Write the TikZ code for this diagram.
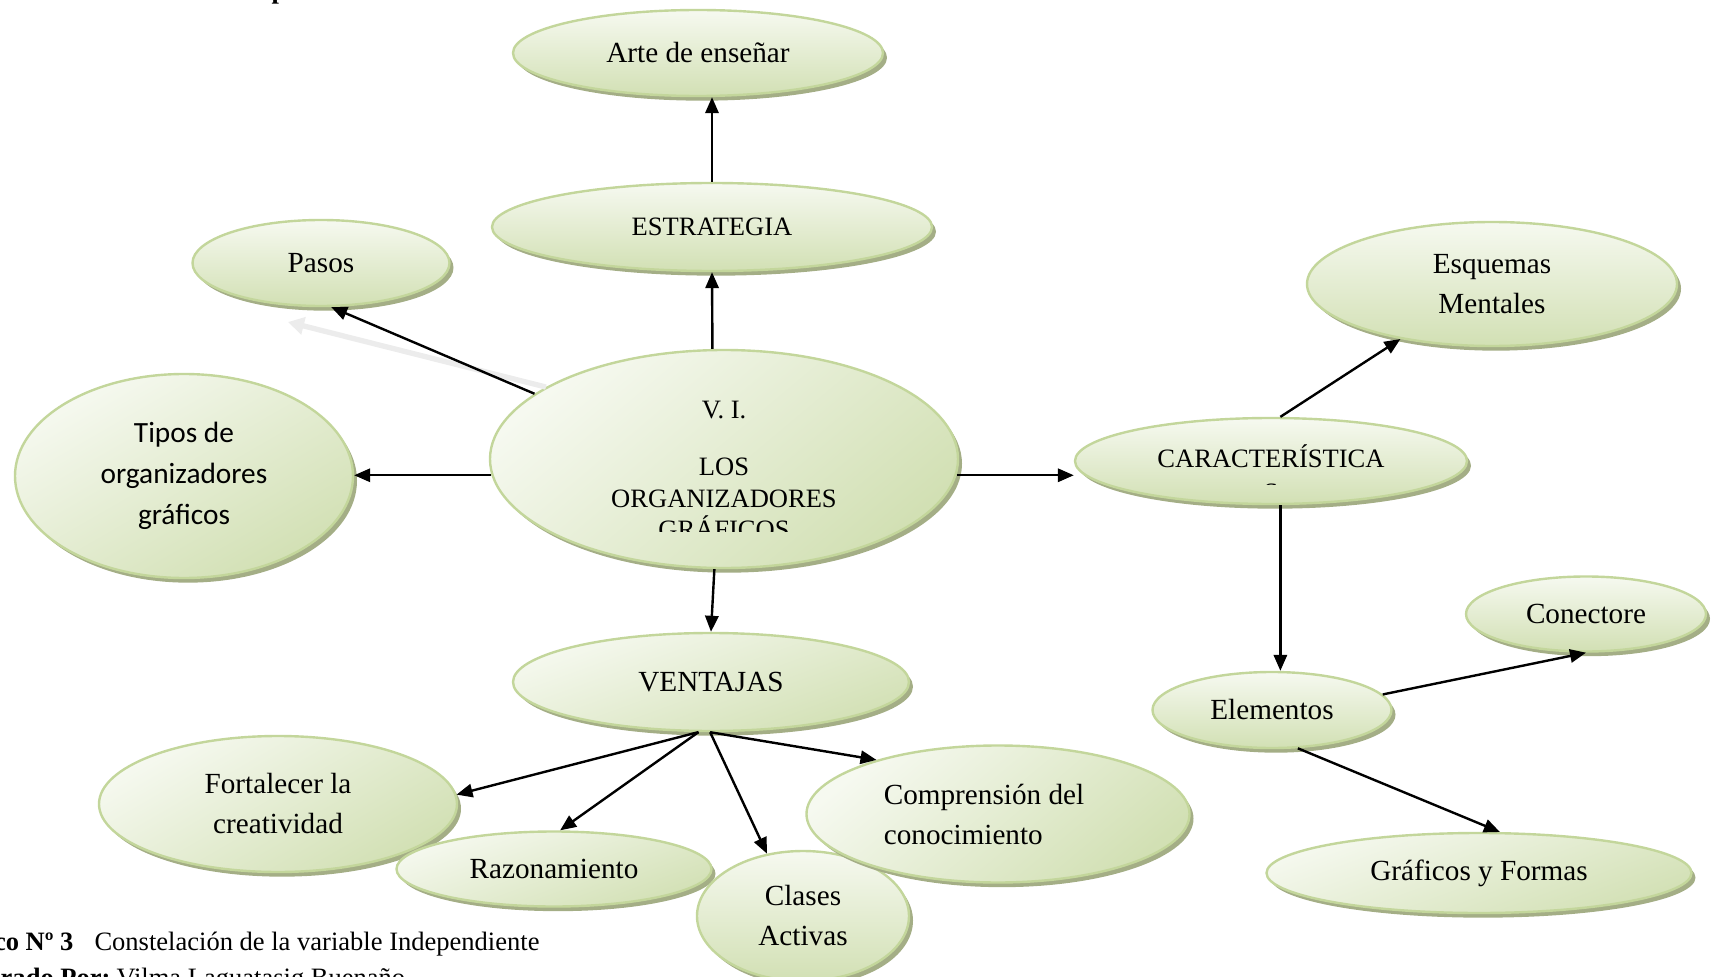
\documentclass[tikz,border=0pt]{standalone}
\usepackage{fontspec}
\setmainfont{Liberation Serif}
\newfontfamily\carlitofont{Carlito}
\usetikzlibrary{shapes.geometric,shadows,arrows.meta}

\definecolor{bubbleline}{RGB}{195,214,155}
\definecolor{bubbletop}{RGB}{246,249,240}
\definecolor{bubblebot}{RGB}{210,224,180}
\definecolor{bubbleshade}{RGB}{164,174,134}
\definecolor{ghostline}{RGB}{236,236,236}

\tikzset{every picture/.style={line width=0.75pt}}
\tikzset{
  bubble/.style={ellipse, draw=bubbleline, line width=1.8pt, top color=bubbletop, bottom color=bubblebot,
    inner sep=0pt, align=center, font=\fontsize{21.9}{30}\selectfont,
    drop shadow={shadow xshift=3pt, shadow yshift=-3.5pt, fill=bubbleshade, opacity=1}},
  capsfont/.style={font=\fontsize{19.9}{23.6}\selectfont},
  link/.style={line width=1.8pt, -{Triangle[length=12pt,width=10pt]}},
  ghost/.style={line width=4pt, draw=ghostline, -{Triangle[length=12pt,width=13pt]}},
  captext/.style={inner sep=0pt, font=\fontsize{19.9}{23.6}\selectfont},
}

\begin{document}
\begin{tikzpicture}[x=0.75pt,y=0.75pt,yscale=-1,xscale=1]
\useasboundingbox (0,0) rectangle (1718,977);

% Text Node (heading, cut off)
\node [captext, anchor=base west, font=\bfseries\fontsize{19.9}{23.6}\selectfont] (headfrag) at (271,-1) {p};

%Shape: Ellipse
\node [bubble, minimum width=277.5pt, minimum height=64.5pt] (arte) at (698,53) {Arte de enseñar};
%Shape: Ellipse
\node [bubble, capsfont, minimum width=330pt, minimum height=66pt] (estr) at (712,227) {ESTRATEGIA};
%Shape: Ellipse
\node [bubble, minimum width=192.75pt, minimum height=64.5pt] (pasos) at (321,263) {Pasos};
%Shape: Ellipse
\node [bubble, minimum width=253.5pt, minimum height=153pt, font=\carlitofont\fontsize{22}{30.75}\selectfont, shading angle=30] (tipos) at (184,476) {Tipos de\\organizadores\\gráficos};
%Shape: Ellipse
\node [bubble, minimum width=351pt, minimum height=163.5pt, shading angle=40] (vi) at (724,459) {};
\begin{scope}
  \clip (560,380) rectangle (890,531);
  \node [capsfont, align=center, inner sep=0pt] (vitxt) at (724,470) {V. I.\\[19.2pt]LOS\\ORGANIZADORES\\GRÁFICOS};
\end{scope}
%Shape: Ellipse
\node [bubble, minimum width=294pt, minimum height=64.5pt] (carac) at (1271,461) {};
\begin{scope}
  \clip (1100,420) rectangle (1440,484);
  \node [capsfont, align=center, inner sep=0pt] (caractxt) at (1271,473) {CARACTERÍSTICA\\[2pt]S};
\end{scope}
%Shape: Ellipse
\node [bubble, minimum width=277.5pt, minimum height=93pt] (esq) at (1492,284) {Esquemas\\Mentales};
%Shape: Ellipse
\node [bubble, minimum width=297pt, minimum height=73.5pt, shading angle=20] (vent) at (711,682) {VENTAJAS};
%Shape: Ellipse
\node [bubble, minimum width=268.5pt, minimum height=102pt, shading angle=30] (fort) at (278,804) {Fortalecer la\\creatividad};
%Shape: Ellipse
\node [bubble, minimum width=236.25pt, minimum height=56.25pt, shading angle=20] (razo) at (554,869) {Razonamiento};
%Shape: Ellipse
\node [bubble, minimum width=159pt, minimum height=97.5pt] (clases) at (803,916) {Clases\\Activas};
%Shape: Ellipse
\node [bubble, minimum width=287.25pt, minimum height=102.75pt, align=left, shading angle=40] (compr) at (998,814) {Comprensión del\hspace*{21pt}\\conocimiento};
%Shape: Ellipse
\node [bubble, minimum width=179.25pt, minimum height=57pt] (elem) at (1272,710) {Elementos};
%Shape: Ellipse
\node [bubble, minimum width=180pt, minimum height=56.25pt] (conect) at (1586,614) {Conectore};
%Shape: Ellipse
\node [bubble, minimum width=318.75pt, minimum height=60pt, shading angle=20] (graf) at (1479,873) {Gráficos y Formas};

% Connectors
\coordinate (pshadow) at (288,322);
\draw [ghost] (vi.158) -- (pshadow);
\draw [link] (estr.north) -- (estr.north |- arte.south);
\draw [link] (vi.96) -- (estr.south);
\draw [link] (vi.161) -- (pasos.-77);
\draw [link] (vi.184) -- (vi.184 -| tipos.east);
\draw [link] (vi.-4) -- (vi.-4 -| carac.west);
\draw [link] (carac.78) -- (esq.-149);
\draw [link] (carac.-78) -- (carac.-78 |- elem.north);
\draw [link] (vi.-95) -- (vent.north);
\draw [link] (vent.-104) -- (fort.3);
\draw [link] (vent.-104) -- (razo.81);
\draw [link] (vent.-91) -- (clases.120);
\draw [link] (vent.-91) -- (compr.156);
\draw [link] (elem.8) -- (conect.south);
\draw [link] (elem.-56) -- (graf.63);

% Text Node (caption, cut off)
\node [captext, anchor=base east, font=\bfseries\fontsize{19.9}{23.6}\selectfont] (capnum) at (74,950) {Gráfico Nº 3};
\node [captext, anchor=base west] (captitle) at (94,950) {Constelación de la variable Independiente};
\node [captext, anchor=base east, font=\bfseries\fontsize{19.9}{23.6}\selectfont] (capby) at (111,986) {Elaborado Por:};
\node [captext, anchor=base west] (capname) at (116,986) {Vilma Laguatasig Buenaño};

\end{tikzpicture}
\end{document}
